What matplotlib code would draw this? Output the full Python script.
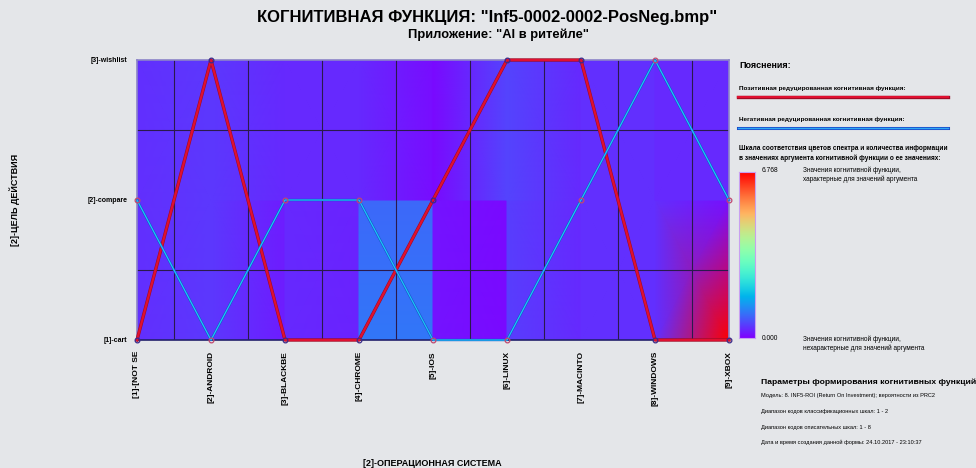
import numpy as np
import matplotlib
matplotlib.use("Agg")
import matplotlib.pyplot as plt
import matplotlib.patheffects as pe

# categorias do eixo x (sistema operacional) e do eixo y (objetivo)
sistemas = ["[1]-[NOT SE", "[2]-ANDROID", "[3]-BLACKBE", "[4]-CHROME", "[5]-IOS",
            "[6]-LINUX", "[7]-MACINTO", "[8]-WINDOWS", "[9]-XBOX"]
acoes = ["[1]-cart", "[2]-compare", "[3]-wishlist"]

# funcao cognitiva positiva e negativa (codigo da acao para cada sistema)
positiva = [1, 3, 1, 1, 2, 3, 3, 1, 1]
negativa = [2, 1, 2, 2, 1, 1, 2, 3, 2]

# escala de cores
vmin = 0.000
vmax = 6.768

# valores do fundo nos cantos de cada celula:
# (esq-baixo, esq-cima, dir-baixo, dir-cima)
fundo_baixo = [(0.40, 0.40, 0.50, 0.50), (0.50, 0.50, 0.25, 0.25),
               (0.35, 0.35, 0.30, 0.30), (1.05, 0.90, 1.05, 0.90),
               (0.18, 0.18, 0.08, 0.08), (0.55, 0.55, 0.35, 0.35),
               (0.40, 0.40, 0.40, 0.40), (0.40, 0.40, 6.768, 0.15)]
fundo_cima = [(0.40, 0.40, 0.50, 0.50), (0.50, 0.50, 0.35, 0.35),
              (0.35, 0.35, 0.35, 0.35), (0.35, 0.35, 0.12, 0.12),
              (0.08, 0.08, 0.60, 0.60), (0.60, 0.60, 0.35, 0.35),
              (0.40, 0.40, 0.40, 0.40), (0.35, 0.35, 0.35, 0.35)]

parametros = ["Модель: 8. INF5-ROI (Return On Investment); вероятности из PRC2",
              "Диапазон кодов классификационных шкал: 1 - 2",
              "Диапазон кодов описательных шкал: 1 - 8",
              "Дата и время создания данной формы: 24.10.2017 - 23:10:37"]


def main():
    plt.rcParams['font.family'] = ['Liberation Sans', 'DejaVu Sans']
    fundo_fig = '#e4e6e9'
    fig = plt.figure(figsize=(9.76, 4.68), dpi=100, facecolor=fundo_fig)

    # titulos
    fig.text(0.499, 0.962, 'КОГНИТИВНАЯ ФУНКЦИЯ: "Inf5-0002-0002-PosNeg.bmp"',
             ha='center', va='center', fontsize=12, fontweight='bold')
    fig.text(0.511, 0.925, 'Приложение: "AI в ритейле"', ha='center', va='center',
             fontsize=9.3, fontweight='bold')

    ax = fig.add_axes([137/976, 1-340/468, 592/976, 280/468])
    ax.set_facecolor('#5a24f6')
    n = len(sistemas)

    # fundo colorido, celula por celula (gouraud)
    for linha, fundo in enumerate([fundo_baixo, fundo_cima]):
        for c in range(n - 1):
            lb, lt, rb, rt = fundo[c]
            X = np.array([[c+1, c+2], [c+1, c+2]])
            Y = np.array([[linha+1, linha+1], [linha+2, linha+2]])
            C = np.array([[lb, rb], [lt, rt]])
            ax.pcolormesh(X, Y, C, shading='gouraud', cmap='rainbow',
                          vmin=vmin, vmax=vmax, zorder=1)

    # grade
    for xg in np.arange(1.5, n, 1.0):
        ax.axvline(xg, color='#2b1a4c', lw=0.8, zorder=2)
    for yg in [1.5, 2.5]:
        ax.axhline(yg, color='#2b1a4c', lw=0.8, zorder=2)

    x = np.arange(1, n + 1)
    ax.plot(x, positiva, color='#e01030', lw=1.6, zorder=4, clip_on=False,
            path_effects=[pe.Stroke(linewidth=2.4, foreground='#9a0c26'), pe.Normal()])
    ax.plot(x, negativa, color='#1cc4f6', lw=0.9, zorder=5, clip_on=False,
            path_effects=[pe.Stroke(linewidth=1.7, foreground='#1850c8'), pe.Normal()])
    ax.plot(x, positiva, 'o', ms=3.4, mfc='none', mec='#3a2a8a', mew=0.9,
            zorder=6, clip_on=False)
    ax.plot(x, negativa, 'o', ms=3.4, mfc='none', mec='#c04870', mew=0.9,
            zorder=6, clip_on=False)

    ax.set_xlim(1, n)
    ax.set_ylim(1, 3)
    ax.set_xticks(x)
    ax.set_xticklabels(sistemas, rotation=90, fontsize=6, fontweight='bold',
                       va='top')
    ax.set_yticks([1, 2, 3])
    ax.set_yticklabels(acoes, fontsize=5, fontweight='bold')
    ax.tick_params(length=0)
    ax.tick_params(axis='x', pad=8)
    ax.tick_params(axis='y', pad=7)
    for lado in ['top', 'left', 'right']:
        ax.spines[lado].set_color('#8c84c8')
        ax.spines[lado].set_linewidth(1.2)
    ax.spines['bottom'].set_color('#22206c')
    ax.spines['bottom'].set_linewidth(1.2)

    fig.text(15/976, 1-200/468, '[2]-ЦЕЛЬ ДЕЙСТВИЯ', rotation=90, ha='center',
             va='center', fontsize=6.5, fontweight='bold')
    fig.text(432/976, 1-463/468, '[2]-ОПЕРАЦИОННАЯ СИСТЕМА', ha='center',
             va='center', fontsize=6.5, fontweight='bold')

    # painel de explicacoes a direita
    x0 = 739/976
    fig.text(x0, 1-66/468, 'Пояснения:', fontsize=6.5, fontweight='bold', va='center')
    fig.text(x0, 1-88/468, 'Позитивная редуцированная когнитивная функция:',
             fontsize=4.6, fontweight='bold', va='center')
    fig.add_artist(plt.Line2D([738/976, 948/976], [1-97/468, 1-97/468], color='#e01030',
                              lw=1.6, path_effects=[pe.Stroke(linewidth=2.4, foreground='#9a0c26'),
                                                    pe.Normal()]))
    fig.text(x0, 1-119/468, 'Негативная редуцированная когнитивная функция:',
             fontsize=4.6, fontweight='bold', va='center')
    fig.add_artist(plt.Line2D([738/976, 948/976], [1-128/468, 1-128/468], color='#30a8f4',
                              lw=1.0, path_effects=[pe.Stroke(linewidth=2.2, foreground='#1848c8'),
                                                    pe.Normal()]))
    fig.text(x0, 1-148/468, 'Шкала соответствия цветов спектра и количества информации',
             fontsize=4.7, fontweight='bold', va='center')
    fig.text(x0, 1-158/468, 'в значениях аргумента когнитивной функции о ее значениях:',
             fontsize=4.7, fontweight='bold', va='center')

    cax = fig.add_axes([739/976, 1-338/468, 16/976, 166/468])
    grad = np.linspace(vmin, vmax, 256).reshape(-1, 1)
    cax.imshow(grad, cmap='rainbow', origin='lower', aspect='auto',
               vmin=vmin, vmax=vmax)
    cax.set_xticks([])
    cax.set_yticks([])
    for s in cax.spines.values():
        s.set_color('#c8a0f0')
        s.set_linewidth(0.8)

    fig.text(762/976, 1-171/468, '%.3f' % vmax, fontsize=4.8, va='center')
    fig.text(803/976, 1-170/468, 'Значения когнитивной функции,', fontsize=4.7, va='center')
    fig.text(803/976, 1-179/468, 'характерные для значений аргумента', fontsize=4.7, va='center')
    fig.text(762/976, 1-339/468, '%.3f' % vmin, fontsize=4.8, va='center')
    fig.text(803/976, 1-339/468, 'Значения когнитивной функции,', fontsize=4.7, va='center')
    fig.text(803/976, 1-348/468, 'нехарактерные для значений аргумента', fontsize=4.7, va='center')

    fig.text(761/976, 1-382/468, 'Параметры формирования когнитивных функций',
             fontsize=6.1, fontweight='bold', va='center')
    for i, p in enumerate(parametros):
        fig.text(761/976, 1-(396 + 15.5*i)/468, p, fontsize=4.1, va='center')

    fig.savefig('out.png', dpi=100, facecolor=fundo_fig)


if __name__ == "__main__":
    main()
